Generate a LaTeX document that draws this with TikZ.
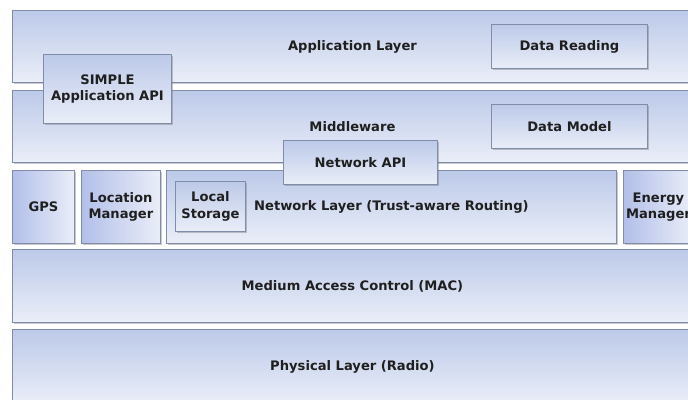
\documentclass[tikz,border=0pt]{standalone}
\usepackage{fontspec}
\setmainfont{DejaVu Sans}
\usetikzlibrary{shadows}
\definecolor{topc}{HTML}{BCC9E8}
\definecolor{botc}{HTML}{EAEEF8}
\definecolor{edgec}{HTML}{7F8DA8}
\tikzset{
  x=1pt,y=-1pt,
  boxbase/.style={draw=edgec, line width=0.9pt, anchor=north west, inner sep=0pt,
    align=center, font=\fontsize{13.1}{16.5}\selectfont\bfseries, text=black!88,
    drop shadow={shadow xshift=1.2pt, shadow yshift=-1.2pt, opacity=0.35, fill=black!60}},
  vbox/.style={boxbase, top color=topc, bottom color=botc},
  hbox/.style={boxbase, left color=topc!95!blue, right color=botc},
}
\begin{document}
\begin{tikzpicture}
\useasboundingbox (0,0) rectangle (688,399);
\fill[white] (0,0) rectangle (688,399);
\clip (0,0) rectangle (688,399);
% layers
\node[vbox, minimum width=680, minimum height=72] (app) at (12,10) {Application Layer};
\node[vbox, minimum width=680, minimum height=72] (mid) at (12,90) {Middleware};
\node[vbox, minimum width=156, minimum height=44] (dr) at (491,24) {Data Reading};
\node[vbox, minimum width=156, minimum height=44] (dm) at (491,104) {Data Model};
% row 3
\node[hbox, minimum width=62, minimum height=73] (gps) at (12,170) {GPS};
\node[hbox, minimum width=79, minimum height=73] (loc) at (81,170) {Location\\Manager};
\node[vbox, minimum width=450, minimum height=73] (net) at (166,170) {Network Layer (Trust-aware Routing)};
\node[hbox, minimum width=70, minimum height=73] (energy) at (623,170) {Energy\\Manager};
\node[vbox, minimum width=70, minimum height=50] (ls) at (175,181) {Local\\Storage};
% lower layers
\node[vbox, minimum width=680, minimum height=73] (mac) at (12,249) {Medium Access Control (MAC)};
\node[vbox, minimum width=680, minimum height=74] (phy) at (12,329) {Physical Layer (Radio)};
% APIs on top
\node[vbox, minimum width=128, minimum height=69] (simple) at (43,54) {SIMPLE\\Application API};
\node[vbox, minimum width=154, minimum height=44] (napi) at (283,140) {Network API};
\end{tikzpicture}
\end{document}
